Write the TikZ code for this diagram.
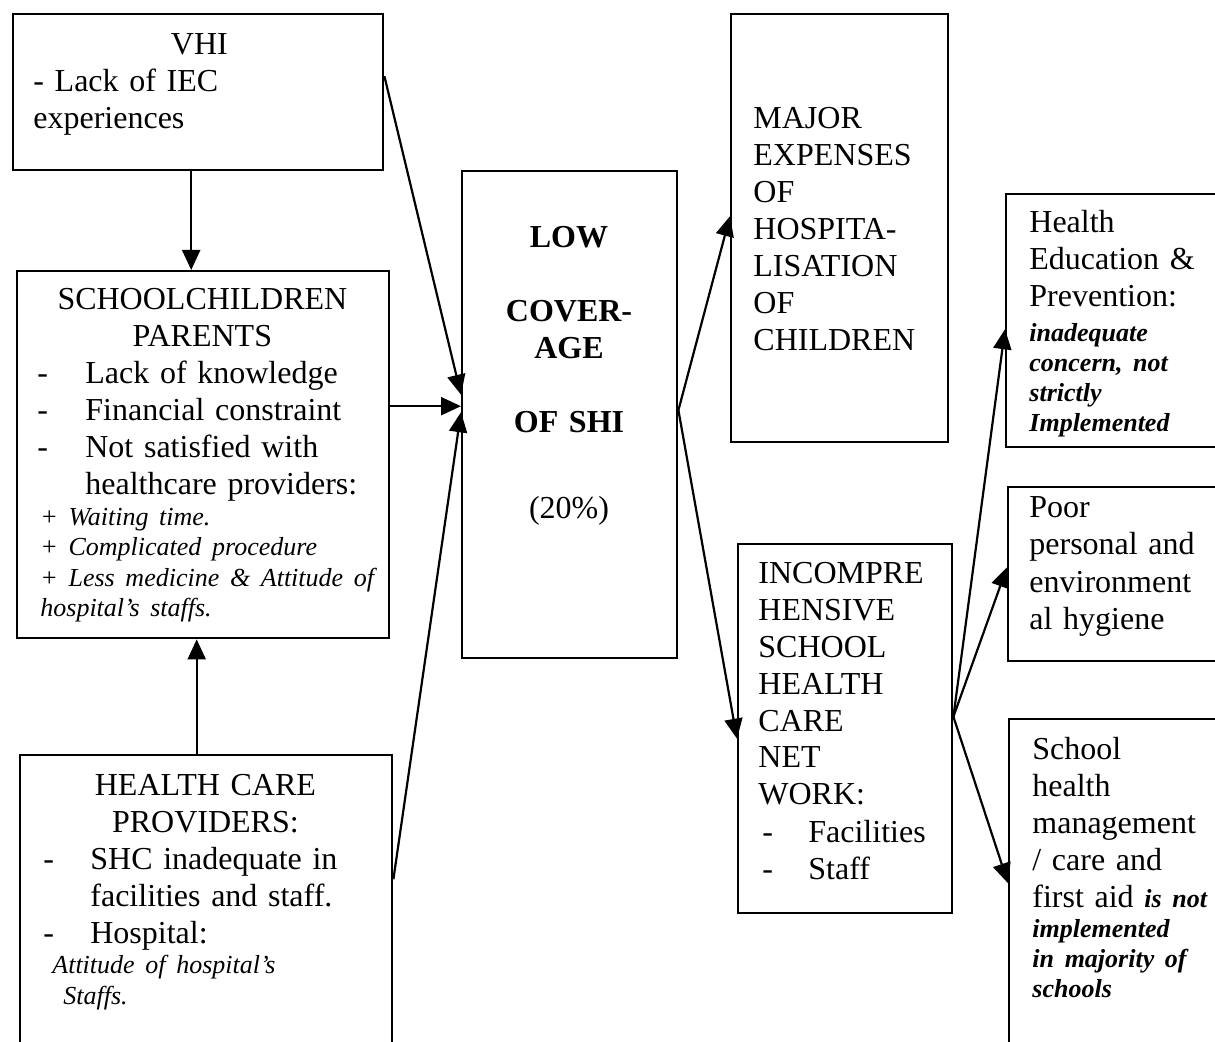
\documentclass[tikz,border=0pt]{standalone}
\usepackage{fontspec}
\setmainfont{Liberation Serif}
\usetikzlibrary{arrows.meta, calc}

\newcommand{\bodyfont}{\fontsize{16}{18.5}\selectfont}
\newcommand{\noteit}{\fontsize{13}{15.25}\selectfont\itshape}
\newcommand{\notebf}{\fontsize{13}{15}\selectfont\bfseries\itshape}

\begin{document}
\begin{tikzpicture}[
    x=0.5pt, y=-0.5pt,
    box/.style 2 args={draw, line width=1.2pt, inner sep=0pt, anchor=north west,
                       minimum width=#1*0.5pt, minimum height=#2*0.5pt},
    txt/.style={anchor=base west, inner sep=0pt, align=left, font=\bodyfont},
    arr/.style={-{Triangle[length=10pt, width=9pt]}, line width=1.1pt}
]
    \clip (0,0) rectangle (1215,1042);

    % left column
    \node[box={370}{156}] (vhi) at (12,13) {};
    \node[txt, text width=170pt] (vhitext) at (33,55)
        {\makebox[166pt]{VHI}\\
         - Lack of IEC\\
         experiences};

    \node[box={372}{367}] (pupils) at (16,270) {};
    \node[txt, text width=176pt] (pupilstext) at (37,310)
        {\makebox[165pt]{SCHOOLCHILDREN}\\
         \makebox[165pt]{PARENTS}\\
         \makebox[24pt][l]{-}Lack of knowledge\\
         \makebox[24pt][l]{-}Financial constraint\\
         \makebox[24pt][l]{-}Not satisfied with\\
         \hspace*{24pt}healthcare providers:\par
         {\noteit \hspace*{1.5pt}+ Waiting time.\\
          \hspace*{1.5pt}+ Complicated procedure\\
          \hspace*{1.5pt}+ Less medicine \& Attitude of\\
          \hspace*{1.5pt}hospital’s staffs.\par}};

    \node[box={372}{308}] (providers) at (19,754) {};
    \node[txt, text width=172pt] (providerstext) at (43,795)
        {\makebox[162pt]{HEALTH CARE}\\
         \makebox[162pt]{PROVIDERS:}\\
         \makebox[23.5pt][l]{-}SHC inadequate in\\
         \hspace*{23.5pt}facilities and staff.\\
         \makebox[23.5pt][l]{-}Hospital:\par
         {\noteit \hspace*{4.5pt}Attitude of hospital’s\\
          \hspace*{10pt}Staffs.\par}};

    % centre
    \node[box={215}{487}] (low) at (461,170) {};
    \node[txt, anchor=base, align=center, text width=100pt,
          font=\bodyfont\bfseries] (lowtext) at (569,248)
        {LOW\\[18.5pt]
         COVER-\\
         AGE\\[18.5pt]
         OF SHI\\[24.5pt]
         {\mdseries (20\%)}};

    \node[box={217}{428}] (expense) at (730,13) {};
    \node[txt, text width=100pt] (expensetext) at (753,129)
        {MAJOR\\EXPENSES\\OF\\HOSPITA-\\LISATION\\OF\\CHILDREN};

    \node[box={214}{369}] (network) at (737,543) {};
    \node[txt, text width=100pt] (networktext) at (758,583)
        {INCOMPRE\\HENSIVE\\SCHOOL\\HEALTH\\CARE\\NET\\WORK:\\
         \hspace*{2pt}\makebox[23pt][l]{-}Facilities\\
         \hspace*{2pt}\makebox[23pt][l]{-}Staff};

    % right column
    \node[box={230}{253}] (educ) at (1005,193) {};
    \node[txt, text width=95pt] (eductext) at (1029,233)
        {Health\\Education \&\\Prevention:\par
         \vspace{2.5pt}
         {\notebf inadequate\\concern, not\\strictly\\Implemented\par}};

    \node[box={230}{174}] (hygiene) at (1007,486) {};
    \node[txt, text width=95pt] (hygienetext) at (1029,518)
        {Poor\\personal and\\environment\\al hygiene};

    \node[box={230}{344}] (firstaid) at (1008,718) {};
    \node[txt, text width=95pt] (firstaidtext) at (1032,759)
        {School\\health\\management\\/ care and\\first aid {\notebf is not}\par
         {\notebf implemented\\in majority of\\schools\par}};

    % connectors
    \draw[arr] ([xshift=-3.5pt]vhi.south) -- ([xshift=-3.5pt]vhi.south |- pupils.north);
    \draw[arr] ([xshift=-4.75pt]providers.north) -- ([xshift=-4.75pt]providers.north |- pupils.south);
    \draw[arr] ([yshift=8pt]vhi.east) -- ([yshift=10pt]low.west);
    \draw[arr] ([yshift=24.25pt]pupils.east) -- ([yshift=4.25pt]low.west);
    \draw[arr] ([yshift=15pt]providers.east) -- ([yshift=1.25pt]low.west);
    \draw[arr] ([yshift=2.25pt]low.east) -- ([yshift=6pt]expense.west);
    \draw[arr] ([yshift=2.25pt]low.east) -- ([yshift=-5pt]network.west);
    \draw[arr] ([yshift=6pt]network.east) -- ([yshift=-4.25pt]educ.west);
    \draw[arr] ([yshift=6pt]network.east) -- ([yshift=3.5pt]hygiene.west);
    \draw[arr] ([yshift=6pt]network.east) -- ([yshift=4pt]firstaid.west);
\end{tikzpicture}
\end{document}
